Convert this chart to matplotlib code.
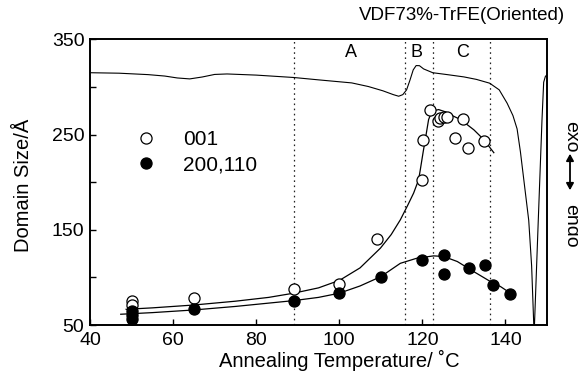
import matplotlib
matplotlib.use("Agg")
import matplotlib.pyplot as plt

plt.rcParams['font.family'] = ['Liberation Sans', 'DejaVu Sans']

# ---------------- data ----------------
temp_001 = [50, 50, 65, 89, 100, 109, 120, 121.9, 120.1, 123.7, 124.3, 125.1, 125.9, 129.8, 127.9, 131, 134.8]
size_001 = [75, 71, 78, 87.8, 93, 140, 202.3, 275.8, 244.3, 264.6, 267, 268.2, 268.2, 266, 246, 235.6, 243.3]

temp_200 = [50, 50, 50, 65, 89, 100, 110, 120, 125.1, 125.1, 131.2, 135, 137, 141]
size_200 = [65, 61, 56, 66.5, 75.5, 83.3, 100, 118.3, 123.5, 103.3, 109.6, 113, 92, 82.2]

fit001_x = [48.7, 55, 65, 75, 83, 89, 95, 100.1, 105, 109.9, 112.5, 114.7, 116.5, 117.9, 119.1,
            119.5, 120.2, 120.7, 121.5, 122.3, 123.9, 125.5, 126.7, 129.2, 132.4, 134.8, 137.2]
fit001_y = [66.5, 68, 71, 75, 79, 83.4, 89, 97, 110, 130.7, 145, 160.5, 176, 188.6, 202.6,
            213, 232, 244.7, 265.8, 274.5, 276.3, 274, 271, 265.8, 255, 244.7, 231]

fit200_x = [47.4, 55, 65, 75, 89, 95, 100, 105, 110, 114.7, 118.7, 122.7, 125.1, 128.4, 132.4,
            136.4, 138.8, 141.2]
fit200_y = [61.3, 63, 65.8, 69.5, 75.6, 79, 83.4, 91, 100.8, 114.8, 120.2, 122.6, 122, 116.7, 106,
            95.6, 90.4, 83.4]

dsc_x = [40, 47, 54, 58, 61, 64, 67, 70, 73, 80, 89, 95, 100, 103, 107, 110.5, 113, 114.3, 115.3,
         116.2, 117, 117.8, 118.5, 119.3, 120.3, 122.5, 126, 130, 133, 136.2, 138.5, 140.4, 141.8,
         142.8, 143.6, 144.6, 145.6, 146.3, 146.6, 146.9, 147.2, 147.9, 148.8, 149.2, 149.6, 150]
dsc_y = [315, 314.5, 313, 311.5, 309.5, 308.5, 310.5, 313.2, 313.7, 312.5, 310, 307.5, 305.5, 304.3,
         300.5, 296, 292, 290.3, 292, 297, 307, 318, 322.5, 322.4, 319, 315, 313, 310.6, 308, 304,
         297, 283, 270, 256, 232, 196, 160, 112, 76, 40, 76, 160, 266, 305, 311, 313]

region_bounds = [89.2, 115.9, 122.5, 136.2]
region_labels = ['A', 'B', 'C']
region_label_x = [102.8, 118.7, 129.7]

x_ticks = [40, 60, 80, 100, 120, 140]
y_ticks = [50, 100, 150, 200, 250, 300, 350]
y_ticklabels = ['50', '', '150', '', '250', '', '350']

# ---------------- figure ----------------
fig = plt.figure(figsize=(5.78, 3.71), dpi=100)
ax = fig.add_axes([90 / 578, 1 - 325 / 371, 457 / 578, (325 - 39.4) / 371])

ax.set_xlim(40, 150)
ax.set_ylim(50, 350)

for xb in region_bounds:
    ax.axvline(xb, color='#222222', lw=0.9, ls=(0, (1.3, 2.8)), zorder=1)

ax.plot(dsc_x, dsc_y, color='black', lw=0.8, zorder=2)
ax.plot(fit001_x, fit001_y, color='black', lw=0.9, zorder=2)
ax.plot(fit200_x, fit200_y, color='black', lw=0.9, zorder=2)

h1, = ax.plot(temp_001, size_001, ls='none', marker='o', ms=8, mfc='white', mec='black',
              mew=0.9, zorder=4, label='001')
h2, = ax.plot(temp_200, size_200, ls='none', marker='o', ms=8, mfc='black', mec='black',
              mew=0.9, zorder=4, label='200,110')

leg = ax.legend(handles=[h1, h2], loc='upper left', bbox_to_anchor=(0.099, 0.683),
                frameon=False, fontsize=15, handlelength=1.0, handletextpad=1.28,
                labelspacing=0.32, borderpad=0, borderaxespad=0)

for lab, lx in zip(region_labels, region_label_x):
    ax.text(lx, 0.955, lab, transform=ax.get_xaxis_transform(), ha='center', va='center',
            fontsize=13)

ax.set_xticks(x_ticks)
ax.set_xticklabels([str(t) for t in x_ticks])
ax.set_yticks(y_ticks)
ax.set_yticklabels(y_ticklabels)
ax.tick_params(axis='both', direction='in', length=4.5, width=1.0, labelsize=14)
ax.tick_params(axis='x', pad=5)
ax.tick_params(axis='y', pad=4)
for sp in ax.spines.values():
    sp.set_linewidth(1.4)

ax.set_xlabel('Annealing Temperature/ ˚C', fontsize=14.5)
ax.xaxis.set_label_coords(0.545, -0.088)
ax.set_ylabel('Domain Size/Å', fontsize=14.5)
ax.yaxis.set_label_coords(-0.125, 0.49)

fig.text(565 / 578, 1 - 15 / 371, 'VDF73%-TrFE(Oriented)', ha='right', va='center', fontsize=13.5)

fig.text(571 / 578, 1 - 137 / 371, 'exo', rotation=-90, ha='center', va='center', fontsize=14)
fig.text(571 / 578, 1 - 226 / 371, 'endo', rotation=-90, ha='center', va='center', fontsize=14)
fig.patches.append(matplotlib.patches.FancyArrowPatch(
    (570 / 578, 1 - 151 / 371), (570 / 578, 1 - 193 / 371), transform=fig.transFigure,
    arrowstyle='<|-|>,head_length=4,head_width=2.2', lw=1.3, color='black'))

fig.savefig('out.png', dpi=100)
